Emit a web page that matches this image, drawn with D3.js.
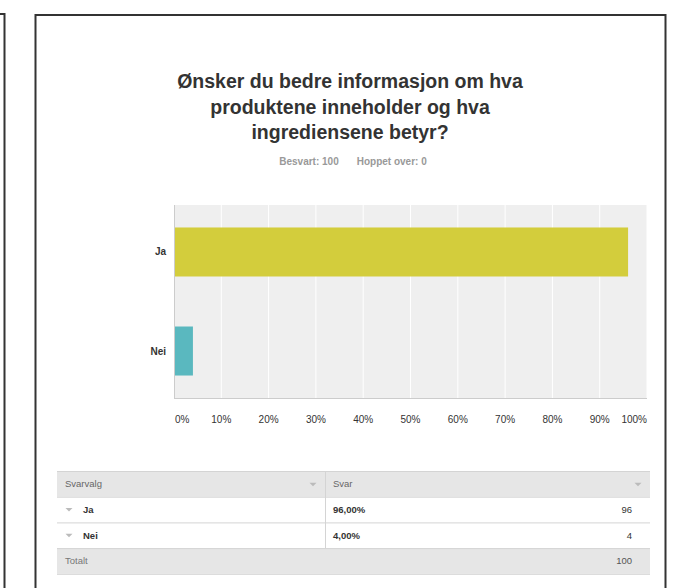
<!DOCTYPE html>
<html>
<head>
<meta charset="utf-8">
<script src="https://cdn.jsdelivr.net/npm/d3@7"></script>
<style>
  body { margin: 0; background: #fff; }
  text { font-family: "Liberation Sans", Arial, Helvetica, sans-serif; }
</style>
</head>
<body>
<div id="chart"></div>
<script>
"use strict";

// data
var categories = ["Ja", "Nei"];
var percents = [96, 4];
var counts = [96, 4];
var total = 100;
var tickValues = [0, 10, 20, 30, 40, 50, 60, 70, 80, 90, 100];
var titleLines = ["Ønsker du bedre informasjon om hva", "produktene inneholder og hva", "ingrediensene betyr?"];
var answered = 100, skipped = 0;

var W = 678, H = 588;
var svg = d3.select("#chart").append("svg")
    .attr("width", W)
    .attr("height", H);

// frames (previous page edge + current page)
svg.append("path")
    .attr("d", "M0,14 H4.5 V588")
    .attr("fill", "none")
    .attr("stroke", "#333")
    .attr("stroke-width", 2);
svg.append("path")
    .attr("d", "M35.5,600 V15 H665.5 V600")
    .attr("fill", "none")
    .attr("stroke", "#333")
    .attr("stroke-width", 2);

// title
svg.append("text")
    .attr("text-anchor", "middle")
    .style("font-size", "19.5px")
    .style("font-weight", "bold")
    .style("fill", "#333")
    .selectAll("tspan")
    .data(titleLines)
    .enter().append("tspan")
    .attr("x", 350)
    .attr("y", function (d, i) { return 88 + i * 25.5; })
    .text(function (d) { return d; });

// subtitle
var sub = svg.append("text")
    .attr("x", 353)
    .attr("y", 165)
    .attr("text-anchor", "middle")
    .style("font-size", "10px")
    .style("font-weight", "bold")
    .style("fill", "#999");
sub.append("tspan").text("Besvart: " + answered);
sub.append("tspan").attr("dx", 18).text("Hoppet over: " + skipped);

// chart area
var plot = { left: 174, right: 647, top: 205, bottom: 398 };
var x = d3.scaleLinear().domain([0, 100]).range([plot.left, plot.right]);
var y = d3.scaleBand().domain(categories)
    .range([plot.top, plot.bottom])
    .paddingInner(0.505)
    .paddingOuter(0.227);
var colors = d3.scaleOrdinal().domain(categories).range(["#d3cd3c", "#5ab8bf"]);

svg.append("rect")
    .attr("x", plot.left)
    .attr("y", plot.top)
    .attr("width", plot.right - plot.left)
    .attr("height", plot.bottom - plot.top)
    .attr("fill", "#efefef");

// gridlines
svg.selectAll(".grid")
    .data(tickValues.slice(1))
    .enter().append("line")
    .attr("class", "grid")
    .attr("x1", function (d) { return x(d); })
    .attr("x2", function (d) { return x(d); })
    .attr("y1", plot.top)
    .attr("y2", plot.bottom)
    .attr("stroke", "#fff")
    .attr("stroke-width", 1);

// bars
svg.selectAll(".bar")
    .data(categories)
    .enter().append("rect")
    .attr("class", "bar")
    .attr("x", x(0))
    .attr("y", function (d) { return y(d); })
    .attr("width", function (d, i) { return x(percents[i]) - x(0); })
    .attr("height", y.bandwidth())
    .attr("fill", function (d) { return colors(d); });

// axis lines
svg.append("line")
    .attr("x1", plot.left + 0.5).attr("x2", plot.left + 0.5)
    .attr("y1", plot.top).attr("y2", plot.bottom)
    .attr("stroke", "#ccc");
svg.append("line")
    .attr("x1", plot.left).attr("x2", plot.right)
    .attr("y1", plot.bottom + 0.5).attr("y2", plot.bottom + 0.5)
    .attr("stroke", "#ccc");

// category labels
svg.selectAll(".cat")
    .data(categories)
    .enter().append("text")
    .attr("class", "cat")
    .attr("x", plot.left - 8)
    .attr("y", function (d) { return y(d) + y.bandwidth() / 2 + 3.5; })
    .attr("text-anchor", "end")
    .style("font-size", "10px")
    .style("font-weight", "bold")
    .style("fill", "#333")
    .text(function (d) { return d; });

// x tick labels
svg.selectAll(".tick-label")
    .data(tickValues)
    .enter().append("text")
    .attr("class", "tick-label")
    .attr("x", function (d, i) { return i === 0 ? x(d) + 1 : x(d); })
    .attr("y", 423)
    .attr("text-anchor", function (d, i) {
        if (i === 0) return "start";
        if (i === tickValues.length - 1) return "end";
        return "middle";
    })
    .style("font-size", "10px")
    .style("fill", "#333")
    .text(function (d) { return d + "%"; });

// table
var tbl = { left: 57, right: 650, divider: 325, top: 471, rowH: 25.7 };
var rows = categories.map(function (c, i) {
    return { label: c, pct: d3.format(".2f")(percents[i]).replace(".", ",") + "%", n: counts[i] };
});

function rowY(i) { return tbl.top + i * tbl.rowH; }

// header + totals row backgrounds
[0, rows.length + 1].forEach(function (ri) {
    svg.append("rect")
        .attr("x", tbl.left).attr("y", rowY(ri))
        .attr("width", tbl.right - tbl.left).attr("height", tbl.rowH)
        .attr("fill", "#e6e6e6");
});

// row separators
svg.selectAll(".sep")
    .data(d3.range(rows.length + 3))
    .enter().append("line")
    .attr("class", "sep")
    .attr("x1", tbl.left).attr("x2", tbl.right)
    .attr("y1", function (d) { return rowY(d) + 0.5; })
    .attr("y2", function (d) { return rowY(d) + 0.5; })
    .attr("stroke", "#d4d4d4");

// column divider
svg.append("line")
    .attr("x1", tbl.divider + 0.5).attr("x2", tbl.divider + 0.5)
    .attr("y1", rowY(0)).attr("y2", rowY(rows.length + 1))
    .attr("stroke", "#d4d4d4");

function triangle(cx, cy, fill) {
    svg.append("path")
        .attr("d", "M" + (cx - 3.5) + "," + (cy - 1.5) + " h7 l-3.5,3.5 z")
        .attr("fill", fill);
}

var textY = function (i) { return rowY(i) + tbl.rowH / 2 + 3.5; };

// header texts
svg.append("text").attr("x", 65).attr("y", textY(0))
    .style("font-size", "9.5px").style("fill", "#666").text("Svarvalg");
svg.append("text").attr("x", 333).attr("y", textY(0))
    .style("font-size", "9.5px").style("fill", "#666").text("Svar");
triangle(313, rowY(0) + tbl.rowH / 2 + 0.5, "#bbb");
triangle(638, rowY(0) + tbl.rowH / 2 + 0.5, "#bbb");

// data rows
rows.forEach(function (r, i) {
    var ri = i + 1;
    triangle(69, rowY(ri) + tbl.rowH / 2, "#bbb");
    svg.append("text").attr("x", 83).attr("y", textY(ri))
        .style("font-size", "9.5px").style("font-weight", "bold").style("fill", "#333")
        .text(r.label);
    svg.append("text").attr("x", 333).attr("y", textY(ri))
        .style("font-size", "9.5px").style("font-weight", "bold").style("fill", "#333")
        .text(r.pct);
    svg.append("text").attr("x", 632).attr("y", textY(ri))
        .attr("text-anchor", "end")
        .style("font-size", "9.5px").style("fill", "#333")
        .text(r.n);
});

// total row
svg.append("text").attr("x", 65).attr("y", textY(rows.length + 1))
    .style("font-size", "9.5px").style("fill", "#777").text("Totalt");
svg.append("text").attr("x", 632).attr("y", textY(rows.length + 1))
    .attr("text-anchor", "end")
    .style("font-size", "9.5px").style("fill", "#555").text(total);
</script>
</body>
</html>
